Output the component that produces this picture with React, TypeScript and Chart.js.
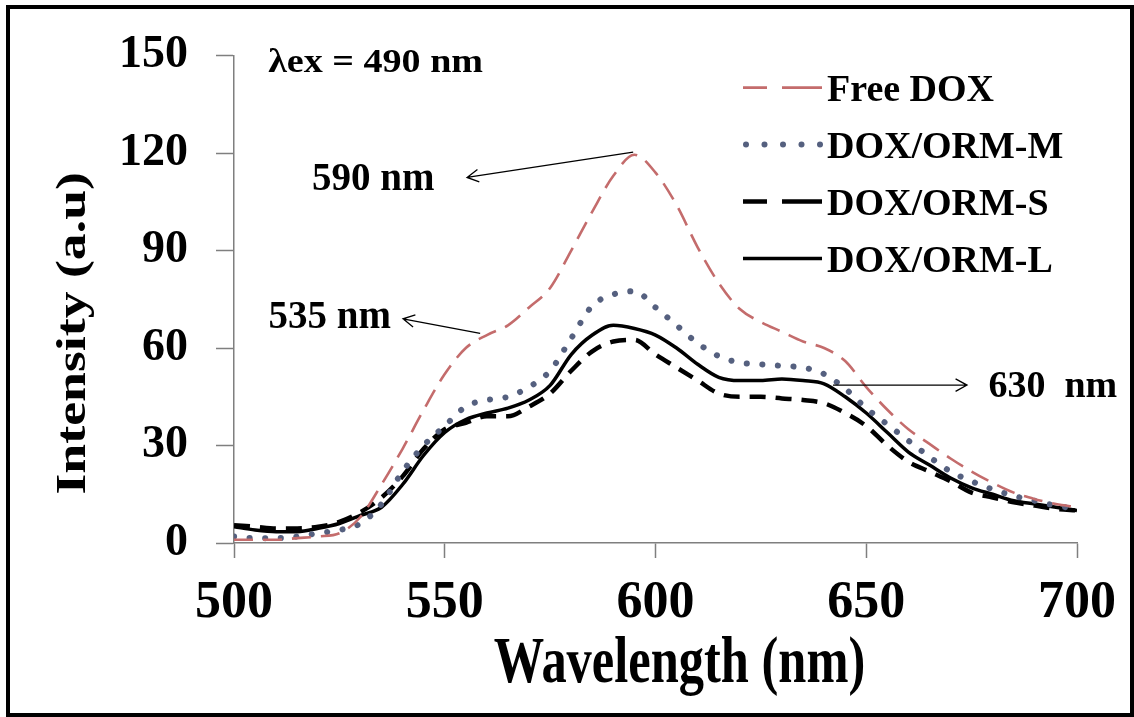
import React, { useEffect, useRef } from "react";
import { Chart, registerables } from "chart.js";

Chart.register(...registerables);

// ---------------- data ----------------
const wavelengths = [
  500, 505, 510, 515, 520, 525, 530, 535, 540, 545, 550, 555, 560, 565, 570, 575, 580, 585, 590, 595, 600,
  605, 610, 615, 620, 625, 630, 635, 640, 645, 650, 655, 660, 665, 670, 675, 680, 685, 690, 695, 700,
];
const freeDox = [
  1, 1, 1, 1.5, 2, 3, 8, 18, 29, 41, 52, 60, 64, 67, 72.5, 78.5, 90, 102, 113, 119.5, 114,
  104, 91, 80, 72, 68, 65, 62, 60, 56, 48, 41, 35, 30.5, 26, 22, 18.5, 15.5, 13.5, 12, 11,
];
const ormM = [
  2, 1.5, 1.5, 2, 3, 4, 6, 12, 22, 30, 36, 42, 44, 45, 48, 53, 63, 73, 76.5, 77.5, 72.5,
  67, 61.5, 57.5, 55.5, 55, 54.5, 54, 52, 47.5, 41.5, 36.5, 31.5, 26.5, 22, 19, 16.5, 14.5, 13, 11.5, 10.5,
];
const ormS = [
  5.5, 5, 4.5, 4.5, 5, 6.5, 9.5, 14, 20.5, 29, 35, 37, 39, 39, 42, 46, 53, 59, 62, 62.5, 58,
  54, 50, 46, 45, 45, 44.5, 44, 43, 40, 36, 30, 25, 22, 19, 15.5, 14, 12.5, 11.5, 10.5, 10,
];
const ormL = [
  5, 4, 3.5, 3.5, 4.5, 6, 8.5, 11, 18, 27, 34, 38, 40, 41.5, 44, 48.5, 58, 64, 67, 66, 64,
  60, 55, 51, 50, 50, 50.5, 50, 49, 45, 40, 34, 28, 24, 20, 17, 15, 13, 12, 11, 10,
];
const seriesLabels = ["Free DOX", "DOX/ORM-M", "DOX/ORM-S", "DOX/ORM-L"];
const xTickValues = [500, 550, 600, 650, 700];
const yTickValues = [0, 30, 60, 90, 120, 150];
const xTitle = "Wavelength (nm)";
const yTitle = "Intensity (a.u)";
const excitationLabel = "λex = 490 nm";

// annotation texts with arrows (in data coordinates)
const peakNotes = [
  { text: "590 nm", tx: 518.5, ty: 108.5, from: [594.7, 120.3], to: [555.3, 112.5] },
  { text: "535 nm", tx: 508.2, ty: 66.3, from: [558.4, 64.5], to: [540.1, 69.0] },
  { text: "630  nm", tx: 679.0, ty: 45.0, from: [642.1, 48.6], to: [673.9, 48.6] },
];

const SERIF = '"Liberation Serif", "Times New Roman", serif';

const styles = [
  { color: "#c46c6c", width: 2.6, dash: [19, 10], cap: "butt" },
  { color: "#55607f", width: 6, dash: [0.1, 15.5], cap: "round" },
  { color: "#000000", width: 4.5, dash: [16, 10], cap: "butt" },
  { color: "#000000", width: 3.5, dash: [], cap: "butt" },
];

const seriesValues = [freeDox, ormM, ormS, ormL];

function drawArrow(ctx: CanvasRenderingContext2D, x1: number, y1: number, x2: number, y2: number) {
  ctx.beginPath();
  ctx.moveTo(x1, y1);
  ctx.lineTo(x2, y2);
  const ang = Math.atan2(y2 - y1, x2 - x1);
  const len = 13;
  const spread = 0.5;
  ctx.moveTo(x2 - len * Math.cos(ang - spread), y2 - len * Math.sin(ang - spread));
  ctx.lineTo(x2, y2);
  ctx.lineTo(x2 - len * Math.cos(ang + spread), y2 - len * Math.sin(ang + spread));
  ctx.stroke();
}

const overlayPlugin = {
  id: "overlay",
  afterDraw(chart: any) {
    const { ctx, chartArea } = chart;
    const xs = chart.scales.x;
    const ys = chart.scales.y;
    ctx.save();
    ctx.setLineDash([]);
    ctx.fillStyle = "#000";
    ctx.strokeStyle = "#000";

    // excitation label
    ctx.font = `bold 34px ${SERIF}`;
    ctx.textAlign = "left";
    ctx.textBaseline = "alphabetic";
    ctx.save();
    ctx.translate(xs.getPixelForValue(508.1), ys.getPixelForValue(144.9));
    ctx.scale(1.12, 1);
    ctx.fillText(excitationLabel, 0, 0);
    ctx.restore();

    // peak notes
    ctx.lineWidth = 1.3;
    peakNotes.forEach((n, i) => {
      ctx.font = `bold ${i === 2 ? 38 : 39}px ${SERIF}`;
      ctx.fillText(n.text, xs.getPixelForValue(n.tx), ys.getPixelForValue(n.ty));
      drawArrow(
        ctx,
        xs.getPixelForValue(n.from[0]),
        ys.getPixelForValue(n.from[1]),
        xs.getPixelForValue(n.to[0]),
        ys.getPixelForValue(n.to[1])
      );
    });

    // legend
    const lx0 = chartArea.right - 334;
    const lx1 = chartArea.right - 255;
    const tx = chartArea.right - 250;
    ctx.font = `bold 38px ${SERIF}`;
    seriesLabels.forEach((label, i) => {
      const base = chartArea.top + 45 + i * 57;
      const ly = base - 13;
      const s = styles[i];
      ctx.strokeStyle = s.color;
      ctx.lineWidth = s.width;
      ctx.lineCap = s.cap as CanvasLineCap;
      ctx.setLineDash([]);
      if (i === 0 || i === 2) {
        ctx.beginPath();
        ctx.moveTo(lx0, ly);
        ctx.lineTo(lx0 + 24, ly);
        ctx.moveTo(lx0 + 39, ly);
        ctx.lineTo(lx1, ly);
        ctx.stroke();
      } else if (i === 1) {
        ctx.fillStyle = s.color;
        for (let k = 0; k < 5; k++) {
          ctx.beginPath();
          ctx.arc(lx0 + 3 + k * 18.5, ly, 3, 0, Math.PI * 2);
          ctx.fill();
        }
      } else {
        ctx.beginPath();
        ctx.moveTo(lx0, ly);
        ctx.lineTo(lx1, ly);
        ctx.stroke();
      }
      ctx.fillStyle = "#000";
      ctx.fillText(label, tx, base);
    });

    // axis titles (slightly stretched like the reference)
    ctx.fillStyle = "#000";
    ctx.textAlign = "center";
    ctx.textBaseline = "alphabetic";
    ctx.font = `bold 66px ${SERIF}`;
    ctx.save();
    ctx.translate((chartArea.left + chartArea.right) / 2 + 24, 682);
    ctx.scale(0.765, 1);
    ctx.fillText(xTitle, 0, 0);
    ctx.restore();

    ctx.font = `bold 42px ${SERIF}`;
    ctx.save();
    ctx.translate(85, (chartArea.top + chartArea.bottom) / 2 + 34);
    ctx.rotate(-Math.PI / 2);
    ctx.scale(1.28, 1);
    ctx.fillText(yTitle, 0, 0);
    ctx.restore();

    ctx.restore();
  },
};

export default function App() {
  const canvasRef = useRef<HTMLCanvasElement | null>(null);

  useEffect(() => {
    const canvas = canvasRef.current;
    if (!canvas) return;
    const datasets = seriesLabels.map((label, i) => ({
      label,
      data: wavelengths.map((w, j) => ({ x: w, y: seriesValues[i][j] })),
      borderColor: styles[i].color,
      backgroundColor: styles[i].color,
      borderWidth: styles[i].width,
      borderDash: styles[i].dash,
      borderCapStyle: styles[i].cap,
      pointRadius: 0,
      tension: 0.4,
      cubicInterpolationMode: "monotone",
      fill: false,
    }));
    const chart = new Chart(canvas, {
      type: "line",
      data: { datasets: datasets as any },
      plugins: [overlayPlugin],
      options: {
        responsive: false,
        animation: false,
        devicePixelRatio: 1,
        layout: { padding: { left: 0, right: 57, top: 41, bottom: 0 } },
        plugins: { legend: { display: false }, tooltip: { enabled: false }, title: { display: false } },
        scales: {
          x: {
            type: "linear",
            min: 500,
            max: 700,
            afterFit: (s: any) => {
              s.height = 174;
            },
            afterBuildTicks: (s: any) => {
              s.ticks = xTickValues.map((v) => ({ value: v }));
            },
            ticks: {
              color: "#000",
              padding: 14,
              font: { family: SERIF, size: 52, weight: "bold" },
              maxRotation: 0,
              autoSkip: false,
            },
            grid: {
              display: true,
              drawOnChartArea: false,
              drawTicks: true,
              tickLength: 15,
              tickColor: "#7f7f7f",
              tickWidth: 1.5,
            },
            border: { display: true, color: "#7f7f7f", width: 1.5 },
          },
          y: {
            type: "linear",
            min: 0,
            max: 150,
            afterFit: (s: any) => {
              s.width = 234;
            },
            afterBuildTicks: (s: any) => {
              s.ticks = yTickValues.map((v) => ({ value: v }));
            },
            ticks: {
              color: "#000",
              padding: 28,
              font: { family: SERIF, size: 46, weight: "bold" },
              autoSkip: false,
            },
            grid: {
              display: true,
              drawOnChartArea: false,
              drawTicks: true,
              tickLength: 18,
              tickColor: "#7f7f7f",
              tickWidth: 1.5,
            },
            border: { display: true, color: "#7f7f7f", width: 1.5 },
          },
        },
      },
    });
    return () => chart.destroy();
  }, []);

  return (
    <div style={{ position: "absolute", left: 0, top: 0, width: 1134, height: 717, background: "#fff" }}>
      <canvas ref={canvasRef} width={1134} height={717} style={{ position: "absolute", left: 0, top: 0 }} />
      <div
        style={{
          position: "absolute",
          left: 6,
          top: 5,
          width: 1128,
          height: 712,
          border: "4px solid #000",
          boxSizing: "border-box",
          pointerEvents: "none",
        }}
      />
    </div>
  );
}
